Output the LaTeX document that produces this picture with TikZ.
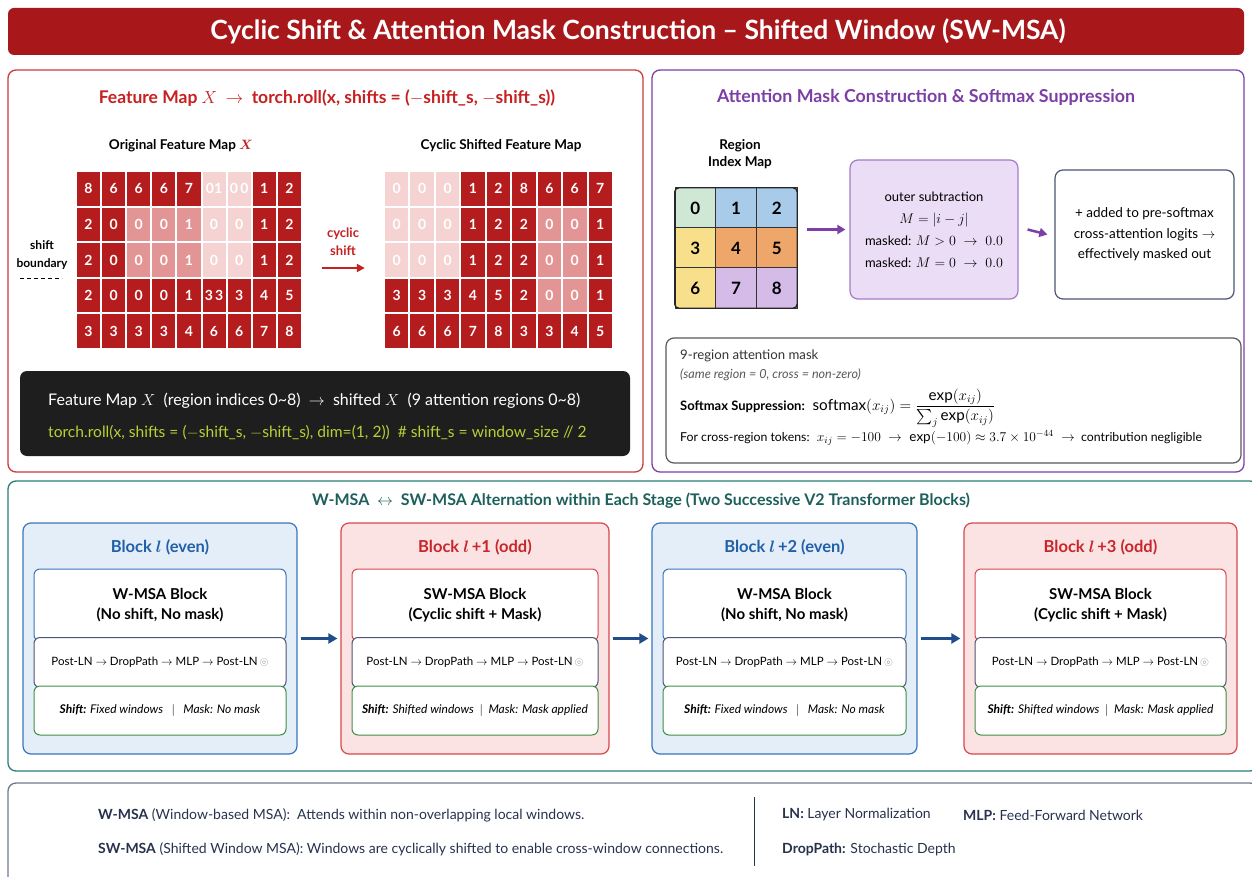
\RequirePackage{fix-cm}
\documentclass[tikz,border=0pt]{standalone}
\usepackage{amsmath,amssymb}
\usepackage{fontspec}
\setmainfont{Lato}
\usetikzlibrary{arrows.meta,calc}
\definecolor{titlered}{HTML}{A8181A}
\definecolor{panelred}{HTML}{CC3B3B}
\definecolor{subred}{HTML}{C62020}
\definecolor{ppl}{HTML}{7B3FA6}
\definecolor{pplfill}{HTML}{ECDDF6}
\definecolor{pplbord}{HTML}{A57BC9}
\definecolor{cellD}{HTML}{B51C1E}
\definecolor{cellM}{HTML}{E39494}
\definecolor{cellL}{HTML}{F5D3D3}
\definecolor{codebg}{HTML}{1E1E1E}
\definecolor{codegreen}{HTML}{B2D235}
\definecolor{tealb}{HTML}{2B7F77}
\definecolor{tealtext}{HTML}{1D5F5B}
\definecolor{bborder}{HTML}{3A74BC}
\definecolor{bfill}{HTML}{E4EEF9}
\definecolor{btext}{HTML}{2160A8}
\definecolor{rborder}{HTML}{D9474B}
\definecolor{rfill}{HTML}{FBE3E3}
\definecolor{rtext}{HTML}{C8262A}
\definecolor{slate}{HTML}{4B5671}
\definecolor{grn}{HTML}{3F8E45}
\definecolor{navy}{HTML}{27324D}
\definecolor{arrowblue}{HTML}{1F4E8A}
\definecolor{rg0}{HTML}{CFE8D5}
\definecolor{rg1}{HTML}{A9CBEA}
\definecolor{rg3}{HTML}{F7DF8C}
\definecolor{rg4}{HTML}{EFA66B}
\definecolor{rg7}{HTML}{D5BBE8}
\newcommand\fsz[2]{\fontsize{#1}{#2}\selectfont}
\newcommand\topb{W-MSA Block\\(No shift, No mask)}
\newcommand\topr{SW-MSA Block\\(Cyclic shift + Mask)}
\newcommand\shiftb{\textbf{Shift:} Fixed windows \ \ $|$ \ \ Mask: No mask}
\newcommand\shiftr{\textbf{Shift:} Shifted windows \ $|$ \ Mask: Mask applied}
\newcommand\plnline{Post-LN $\rightarrow$ DropPath $\rightarrow$ MLP $\rightarrow$ Post-LN\,\textcolor{gray}{$\circledcirc$}}
\newcommand\msablock[6]{%
  \node[outerblk, draw=#4border, fill=#4fill, minimum width=#3] (blk#1) at (#2,638.5) {};
  \node[font=\fsz{16.5}{19}\bfseries, text=#4text] (blk#1t) at (#2,547) {#5};
  \node[inbox, draw=#4border, minimum width=#6, minimum height=72, font=\fsz{15}{20}\bfseries] (blk#1a) at (#2,605) {\csname top#4\endcsname};
  \node[inbox, draw=slate, minimum width=#6, minimum height=50, font=\fsz{11.5}{13}] (blk#1b) at (#2,662.5) {\plnline};
  \node[inbox, draw=grn, minimum width=#6, minimum height=49, font=\fsz{12}{14}\itshape] (blk#1c) at (#2,710.5) {\csname shift#4\endcsname};
}
\begin{document}
\begin{tikzpicture}[x=1pt,y=-1pt,
  panel/.style={rounded corners=8, line width=1.3, fill=white, inner sep=0},
  cell/.style={minimum width=23.1, minimum height=33.6, inner sep=0, text=white, font=\fsz{14}{14}\bfseries},
  rcell/.style={minimum width=23.4, minimum height=33.6, inner sep=0, text=white, font=\fsz{14}{14}\bfseries},
  regcell/.style={minimum width=40.7, minimum height=40, inner sep=0, draw=black!80, line width=1, font=\fsz{17}{17}\bfseries},
  inbox/.style={rounded corners=6, fill=white, line width=1, inner sep=0, align=center},
  outerblk/.style={rounded corners=8, line width=1.2, minimum height=231, inner sep=0},
  barrow/.style={-{Triangle[length=9pt,width=10pt]}, line width=3, draw=arrowblue, shorten <=3, shorten >=3},
  parrow/.style={-{Triangle[length=8pt,width=9pt]}, line width=2.5, draw=ppl},
  lbl/.style={inner sep=0, anchor=west},
]
\clip (0,0) rectangle (1252,877);
\fill[white] (0,0) rectangle (1252,877);

% title
\node[fill=titlered, rounded corners=6, minimum width=1236, minimum height=47, inner sep=0] (title) at (626,31.5) {};
\node[text=white, font=\fsz{26.5}{30}\bfseries] (titletext) at (638,31.5) {Cyclic Shift \& Attention Mask Construction -- Shifted Window (SW-MSA)};

% ===== left panel
\node[panel, draw=panelred, minimum width=635, minimum height=402] (lpanel) at (325.5,271) {};
\node[text=subred, font=\fsz{17.5}{20}\bfseries] (lsub) at (327,98) {Feature Map $X$ \ $\rightarrow$ \ torch.roll(x, shifts = ($-$shift\_s, $-$shift\_s))};
\node[font=\fsz{13.5}{16}\bfseries] (lorig) at (181,146) {Original Feature Map \textcolor{subred}{$\boldsymbol{X}$}};
\node[font=\fsz{13.5}{16}\bfseries] (lshift) at (501,146) {Cyclic Shifted Feature Map};

\node[minimum width=226, minimum height=178, inner sep=0] (lgrid) at (189,260) {};
\foreach \row [count=\r] in {{8/D,6/D,6/D,6/D,7/D,01/L,0\,0/L,1/D,2/D},{2/D,0/D,0/M,0/M,1/M,0/L,0/L,1/D,2/D},{2/D,0/D,0/M,0/M,1/M,0/L,0/L,1/D,2/D},{2/D,0/D,0/D,0/D,1/D,3\,3/D,3/D,4/D,5/D},{3/D,3/D,3/D,3/D,4/D,6/D,6/D,7/D,8/D}}{
  \foreach \v/\s [count=\c] in \row {
    \node[cell, fill=cell\s] (lc\r\c) at ({76+(\c-0.5)*25.1},{171+(\r-0.5)*35.6}) {\v};
  }
}
\node[minimum width=229, minimum height=178, inner sep=0] (rgrid) at (498.5,260) {};
\foreach \row [count=\r] in {{0/L,0/L,0/L,1/D,2/D,8/D,6/D,6/D,7/D},{0/L,0/L,0/L,1/D,2/D,2/D,0/M,0/M,1/D},{0/L,0/L,0/L,1/D,2/D,2/D,0/M,0/M,1/D},{3/D,3/D,3/D,4/D,5/D,2/D,0/M,0/M,1/D},{6/D,6/D,6/D,7/D,8/D,3/D,3/D,4/D,5/D}}{
  \foreach \v/\s [count=\c] in \row {
    \node[rcell, fill=cell\s] (rc\r\c) at ({384+(\c-0.5)*25.44},{171+(\r-0.5)*35.6}) {\v};
  }
}
\node[font=\fsz{12}{18}\bfseries, align=center] (sbnd) at (42,255) {shift\\boundary};
\coordinate (sbA) at (20,278);
\coordinate (sbB) at (62,278);
\draw[line width=1, dash pattern=on 4pt off 3pt] (sbA) -- (sbB);
\node[text=subred, font=\fsz{13}{18}\bfseries, align=center] (cyc) at (343,242) {cyclic\\shift};
\draw[-{Triangle[length=8pt,width=8pt]}, line width=2, draw=subred] ($(lgrid.east)+(20,8)$) -- ($(rgrid.west)+(-19,8)$);

% code box
\node[fill=codebg, rounded corners=7, minimum width=610, minimum height=85, inner sep=0] (code) at (325,413.5) {};
\node[lbl, text=white, font=\fsz{16}{20}] (code1) at (48,401) {Feature Map $X$ \ (region indices 0\textasciitilde8) \ $\rightarrow$ \ shifted $X$ \ (9 attention regions 0\textasciitilde8)};
\node[lbl, text=codegreen, font=\fsz{15.6}{17}] (code2) at (48,433) {torch.roll(x, shifts = ($-$shift\_s, $-$shift\_s), dim=(1, 2)) \ \# shift\_s = window\_size // 2};

% ===== right panel
\node[panel, draw=ppl, minimum width=592, minimum height=402] (rpanel) at (948,271) {};
\node[text=ppl, font=\fsz{17.8}{20}\bfseries] (rsub) at (926,97) {Attention Mask Construction \& Softmax Suppression};
\node[font=\fsz{13.5}{17}\bfseries, align=center] (rim) at (740,154.5) {Region\\Index Map};
\node[minimum width=122, minimum height=120, inner sep=0] (regmap) at (736,248) {};
\foreach \v/\col [count=\i from 0] in {0/rg0,1/rg1,2/rg1,3/rg3,4/rg4,5/rg4,6/rg3,7/rg7,8/rg7}{
  \pgfmathtruncatemacro\cc{mod(\i,3)}
  \pgfmathtruncatemacro\rr{div(\i,3)}
  \node[regcell, fill=\col] (rg\v) at ({675+(\cc+0.5)*40.7},{188+(\rr+0.5)*40}) {\v};
}
\draw[black!85, line width=1.4, rounded corners=4] (regmap.north west) rectangle (regmap.south east);
\node[fill=pplfill, draw=pplbord, line width=1.2, rounded corners=8, minimum width=168, minimum height=139, inner sep=0, align=center, font=\fsz{13}{22}] (mask) at (934,229.5) {outer subtraction\\{\fsz{14}{22}$M = |i - j|$}\\masked: {\fsz{14}{22}$M > 0 \;\rightarrow\; 0.0$}\\masked: {\fsz{14}{22}$M = 0 \;\rightarrow\; 0.0$}};
\node[fill=white, draw=slate, line width=1.2, rounded corners=8, minimum width=179, minimum height=129, inner sep=0, align=center, font=\fsz{13.5}{20.5}] (added) at (1144.5,234.5) {+ added to pre-softmax\\cross-attention logits $\rightarrow$\\effectively masked out};
\draw[parrow] ($(regmap.east |- mask.west)+(10,0)$) -- ($(mask.west)+(-4,0)$);
\draw[parrow] ($(mask.east)+(9,0)$) -- ($(added.west)+(-7,0)$);

\node[fill=white, draw=black!65, line width=1.2, rounded corners=8, minimum width=575, minimum height=125, inner sep=0] (smbox) at (953.5,400.5) {};
\node[lbl, text=black!80, font=\fsz{13.2}{15}] (sm1) at (680,356) {9-region attention mask};
\node[lbl, text=black!65, font=\fsz{12.6}{13}\itshape] (sm2) at (680,374.5) {(same region = 0, cross = non-zero)};
\node[lbl, font=\fsz{13}{15}] (sm3) at (680,408) {\textbf{Softmax Suppression:} \ \fsz{15.2}{17}$\mathrm{softmax}(x_{ij}) = \dfrac{\exp(x_{ij})}{\sum_j \exp(x_{ij})}$};
\node[lbl, font=\fsz{12.3}{15}] (sm4) at (680,438) {For cross-region tokens: \ {\fsz{13.5}{15}$x_{ij} = -100 \;\rightarrow\; \exp(-100) \approx 3.7\times 10^{-44} \;\rightarrow$} \ contribution negligible};

% ===== middle panel
\node[panel, draw=tealb, minimum width=1250, minimum height=290] (mpanel) at (633,626) {};
\node[text=tealtext, font=\fsz{16}{19}\bfseries] (msub) at (641,501) {W-MSA \ $\leftrightarrow$ \ SW-MSA Alternation within Each Stage (Two Successive V2 Transformer Blocks)};
\msablock{1}{160}{274}{b}{Block $\boldsymbol{l}$ (even)}{252}
\msablock{2}{475}{268}{r}{Block $\boldsymbol{l}$\,+1 (odd)}{246}
\msablock{3}{784.5}{265}{b}{Block $\boldsymbol{l}$\,+2 (even)}{243}
\msablock{4}{1100.5}{273}{r}{Block $\boldsymbol{l}$\,+3 (odd)}{251}
\draw[barrow] (blk1) -- (blk2);
\draw[barrow] (blk2) -- (blk3);
\draw[barrow] (blk3) -- (blk4);

% ===== legend
\node[panel, draw=slate!80, minimum width=1250, minimum height=110] (legend) at (633,838) {};
\node[lbl, text=navy, font=\fsz{14}{16}] (lg1) at (98,815) {\textbf{W-MSA} (Window-based MSA): \ Attends within non-overlapping local windows.};
\node[lbl, text=navy, font=\fsz{14}{16}] (lg2) at (98,849) {\textbf{SW-MSA} (Shifted Window MSA): Windows are cyclically shifted to enable cross-window connections.};
\coordinate (dvA) at (754,797);
\coordinate (dvB) at (754,866);
\draw[navy, line width=1] (dvA) -- (dvB);
\node[lbl, text=navy, font=\fsz{14}{16}] (lg3) at (782,815) {\textbf{LN:} Layer Normalization};
\node[lbl, text=navy, font=\fsz{14}{16}] (lg4) at (963,815) {\textbf{MLP:} Feed-Forward Network};
\node[lbl, text=navy, font=\fsz{14}{16}] (lg5) at (782,849) {\textbf{DropPath:} Stochastic Depth};
\end{tikzpicture}
\end{document}
